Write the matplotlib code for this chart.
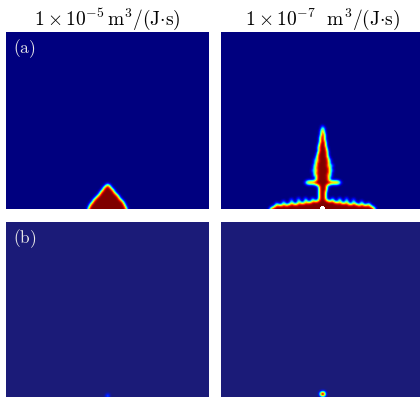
import numpy as np
import matplotlib
matplotlib.use("Agg")
import matplotlib.pyplot as plt
from matplotlib.colors import LinearSegmentedColormap

plt.rcParams["mathtext.fontset"] = "cm"

# data (in pixels from the panel's bottom-left corner)
titles = [r"$1\times10^{-5}\,\mathrm{m}^3/(\mathrm{J{\cdot}s})$",
          r"$1\times10^{-7}\ \ \mathrm{m}^3/(\mathrm{J{\cdot}s})$"]
row_labels = ["(a)", "(b)"]

# (a) left: smooth bump
bump_h = [0, 5, 9, 15.7, 21, 23.5, 25]
bump_hw = [19.5, 17, 14, 8, 4, 1.8, 0]

# (a) right: dendrite
stalk_h = [0, 12, 22, 30, 38, 44, 58, 71, 78, 84]
stalk_hw = [3.5, 3.5, 4, 5.5, 6, 5.5, 4, 2.5, 1.5, 0]
stalk_spike_h = [31, 33.5, 36, 38.5, 41, 43.5, 46, 48.5, 51, 54, 57, 61, 65]
stalk_spike_ext = [3, 3.5, 4, 4.5, 4.5, 4.5, 4, 3.5, 3, 2.5, 2, 1.5, 1.2]
branch_h, branch_len, branch_thick = 26.5, 18, 2.2
base_dx = [0, 8, 15, 25, 35, 45, 50, 53]
base_t = [9.5, 8, 6.5, 5.5, 4.5, 3.5, 2.2, 0]
base_spike_dx = [-46, -39, -31, -24, -17, -10, 10, 17, 24, 31, 39, 46]
base_spike_len = [2, 3, 4, 5, 4, 3, 3, 4, 5, 4, 3, 2]
hole_dx = [-6, 6, -6, 6]
hole_h = [15, 15, 9, 9]

# (b): small seeds
seed_h = [3, 5]
seed_amp = [0.4, 1.3]
seed_r = [1.8, 2.5]

W, H = 203, 177
CX = 101.7
xx, hh = np.meshgrid(np.arange(W) + 0.5, np.arange(H) + 0.5)


def blur(a, s=1.6):
    r = int(3 * s) + 1
    k = np.exp(-0.5 * (np.arange(-r, r + 1) / s) ** 2)
    k /= k.sum()
    p = np.pad(a.astype(float), r, mode="edge")
    p = np.apply_along_axis(lambda v: np.convolve(v, k, "valid"), 0, p)
    p = np.apply_along_axis(lambda v: np.convolve(v, k, "valid"), 1, p)
    return p


def profile(cx, hs, hws):
    hw = np.interp(hh, hs, hws, right=0)
    return (np.abs(xx - cx) <= hw) & (hh <= hs[-1])


def ellipse(cx, ch, a, b):
    return ((xx - cx) / a) ** 2 + ((hh - ch) / b) ** 2 <= 1


# top-left field
field_a1 = blur(profile(CX, bump_h, bump_hw))

# top-right field
m = profile(CX, stalk_h, stalk_hw)
for h, e in zip(stalk_spike_h, stalk_spike_ext):
    m |= ellipse(CX, h, np.interp(h, stalk_h, stalk_hw) + e, 0.9)
m |= ellipse(CX, branch_h, branch_len, branch_thick)
bt = np.interp(np.abs(xx - CX), base_dx, base_t, right=0)
m |= hh <= bt
for dx, L in zip(base_spike_dx, base_spike_len):
    top = np.interp(abs(dx), base_dx, base_t)
    m |= ellipse(CX + dx, top, 0.9, L + 1)
for dx, h in zip(hole_dx, hole_h):
    m &= ~ellipse(CX + dx, h, 1.0, 1.0)
field_a2 = blur(m)
field_a2[ellipse(CX, 1.0, 2.3, 2.0)] = 2.0

# bottom fields
field_b = []
for h, amp, r in zip(seed_h, seed_amp, seed_r):
    field_b.append(np.clip(blur(ellipse(CX, h, r, r)) * amp, 0, 1))

jet = plt.get_cmap("jet").copy()
jet.set_over("white")
bg_b = "#1b1b78"
cmap_b = LinearSegmentedColormap.from_list(
    "b", [(0, bg_b), (0.15, jet(0.15)), (0.35, jet(0.35)), (0.5, jet(0.5)),
          (0.65, jet(0.65)), (0.85, jet(0.85)), (1, jet(1.0))])

fig = plt.figure(figsize=(4.2, 3.97), dpi=100)
FW, FH = 420, 397
lefts = [6, 221]
tops = [32, 222]
fields = [[field_a1, field_a2], field_b]
cmaps = [jet, cmap_b]

for r in range(2):
    for c in range(2):
        ax = fig.add_axes([lefts[c] / FW, (FH - tops[r] - H) / FH, W / FW, H / FH])
        ax.imshow(fields[r][c], origin="lower", extent=(0, W, 0, H), cmap=cmaps[r],
                  vmin=0, vmax=1, interpolation="bilinear", aspect="auto")
        ax.set_xlim(0, W)
        ax.set_ylim(0, H)
        ax.axis("off")
        if r == 0:
            ax.set_title(titles[c], fontsize=14, pad=5)
        if c == 0:
            ax.text(7, H - 5, r"$\mathrm{" + row_labels[r] + "}$", color="#e8e8e8",
                    fontsize=12.5, ha="left", va="top")

fig.savefig("out.png", dpi=100)
